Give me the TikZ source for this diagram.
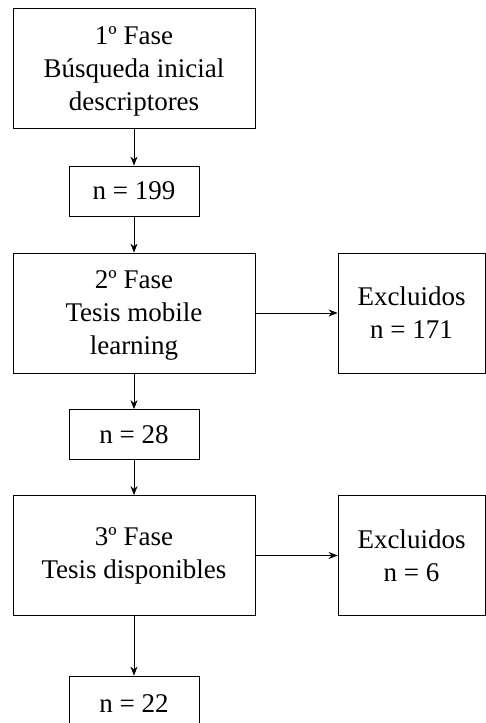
\documentclass[tikz,border=0pt]{standalone}
\usepackage{fontspec}
\setmainfont{Liberation Serif}
\newfontfamily\romana{Liberation Serif}
\usetikzlibrary{arrows.meta}
\begin{document}
\begin{tikzpicture}[x=1pt, y=-1pt,
    caja/.style={draw, line width=0.8pt, align=center, inner sep=0pt,
      font=\romana\fontsize{27}{33}\selectfont},
    fase/.style={caja, minimum width=242pt, minimum height=120pt},
    cuenta/.style={caja, minimum width=130pt, minimum height=50pt},
    excl/.style={caja, minimum width=147pt, minimum height=120pt},
    flecha/.style={-{Stealth[length=9pt, width=7pt]}, line width=0.8pt}]
    \useasboundingbox (0, 0) rectangle (486, 723);
    \node[fase, text depth=0pt] (fase1) at (134, 68.5) {1º Fase\\Búsqueda inicial\\descriptores};
    \node[cuenta] (n199) at (134, 191) {n = 199};
    \node[fase, text depth=0pt] (fase2) at (134, 313) {2º Fase\\Tesis mobile\\learning};
    \node[excl] (excl1) at (411.5, 313) {Excluidos\\n = 171};
    \node[cuenta] (n28) at (134, 434.5) {n = 28};
    \node[fase] (fase3) at (134, 555.5) {3º Fase\\Tesis disponibles};
    \node[excl] (excl2) at (411.5, 555.5) {Excluidos\\n = 6};
    \node[cuenta, minimum height=56pt] (n22) at (134, 704) {n = 22};
    \draw [flecha] (fase1) -- (n199);
    \draw [flecha] (n199) -- (fase2);
    \draw [flecha] (fase2) -- (excl1);
    \draw [flecha] (fase2) -- (n28);
    \draw [flecha] (n28) -- (fase3);
    \draw [flecha] (fase3) -- (excl2);
    \draw [flecha] (fase3) -- (n22);
\end{tikzpicture}
\end{document}
